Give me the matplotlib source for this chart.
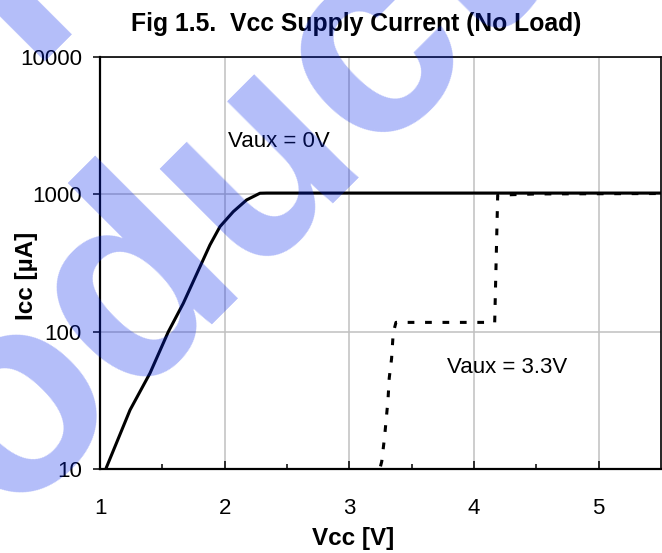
import matplotlib
matplotlib.use("Agg")
import matplotlib.pyplot as plt
from matplotlib.ticker import FixedLocator, NullFormatter, NullLocator

plt.rcParams['font.family'] = ['Liberation Sans', 'DejaVu Sans']

# Vaux = 0V curve
vcc_0v = [1.053, 1.241, 1.401, 1.548, 1.668, 1.802, 1.882, 1.962, 2.069, 2.176, 2.283, 2.337, 5.5]
icc_0v = [10.4, 27, 50, 100, 161, 297, 428, 581, 747, 909, 1017, 1020, 1020]

# Vaux = 3.3V curve
vcc_33v = [3.25, 3.26, 3.283, 3.31, 3.32, 3.339, 3.352, 3.374, 4.166, 4.19, 4.5, 5.5]
icc_33v = [10.5, 11.4, 17.3, 31.9, 46, 64, 98, 117, 117, 985, 1005, 1012]

x_ticks = [1, 2, 3, 4, 5]
x_minor = [1.5, 2.5, 3.5, 4.5]
y_ticks = [10, 100, 1000, 10000]
y_labels = ['10', '100', '1000', '10000']

fig = plt.figure(figsize=(6.62, 5.53), dpi=100)
ax = fig.add_axes([100 / 662, 1 - 469.3 / 553, 561 / 662, (469.3 - 56.7) / 553])

ax.plot(vcc_0v, icc_0v, color='black', lw=2.2, solid_joinstyle='round', zorder=3)
ax.plot(vcc_33v, icc_33v, color='black', lw=2.2, linestyle=(0, (2.2, 3.5)), zorder=3)

ax.set_yscale('log')
ax.set_xlim(1, 5.5)
ax.set_ylim(10, 10000)

ax.xaxis.set_major_locator(FixedLocator(x_ticks))
ax.xaxis.set_minor_locator(FixedLocator(x_minor))
ax.xaxis.set_minor_formatter(NullFormatter())
ax.yaxis.set_major_locator(FixedLocator(y_ticks))
ax.set_yticklabels(y_labels)
ax.yaxis.set_minor_locator(NullLocator())

ax.tick_params(axis='x', which='major', direction='in', length=6, width=1.1,
               labelsize=16, pad=21)
ax.tick_params(axis='x', which='minor', direction='in', length=3.5, width=1.1)
ax.tick_params(axis='y', which='major', direction='out', length=5, width=1.1,
               labelsize=16, pad=8)

ax.grid(True, which='major', color='#c0c0c0', lw=1.1, zorder=0)
ax.set_axisbelow(True)

for side in ['left', 'bottom']:
    ax.spines[side].set_linewidth(1.6)
for side in ['top', 'right']:
    ax.spines[side].set_linewidth(1.2)

ax.text(2.026, 2400, 'Vaux = 0V', fontsize=16, va='center', ha='left')
ax.text(3.78, 55, 'Vaux = 3.3V', fontsize=16, va='center', ha='left')

fig.text(356 / 662, 1 - 31.5 / 553, 'Fig 1.5.  Vcc Supply Current (No Load)',
         fontsize=17.8, fontweight='bold', ha='center', va='baseline')
fig.text(353.5 / 662, 1 - 539 / 553, 'Vcc [V]', fontsize=17.5,
         fontweight='bold', ha='center', va='center')
fig.text(27 / 662, 1 - 276 / 553, 'Icc [µA]', fontsize=17.5, fontweight='bold',
         ha='center', va='center', rotation=90)

# watermark
wm = dict(fontsize=201, fontweight='bold', color=(0.02, 0.15, 0.93), alpha=0.3,
          rotation=45, rotation_mode='anchor', ha='left', va='baseline', zorder=10)
fig.text(-476 / 662, (553 - 571) / 553, 'Obsolete', **wm)
fig.text(-203 / 662, (553 - 721) / 553, 'Product', **wm)

fig.savefig('out.png', dpi=100)
